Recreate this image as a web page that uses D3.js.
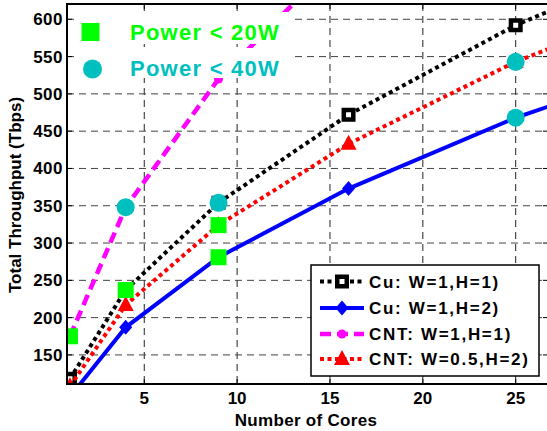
<!doctype html>
<meta charset="utf-8">
<style>
body { margin: 0; background: #fff; }
text { font-family: "Liberation Sans", Arial, Helvetica, sans-serif; font-weight: bold; }
</style>
<body>
<div id="viz"></div>
<script src="https://cdn.jsdelivr.net/npm/d3@7"></script>
<script>
// number of cores on the x axis
var cores = [1, 4, 9, 16, 25, 36];
// total throughput (Tbps) per configuration
var cuH1 = [118, 237, 354, 472, 592, 708];
var cuH2 = [94, 187, 281, 373, 468, 562];
var cntH1 = [175, 348, 520, 695, 870, 1040];
var cntH2 = [108, 217, 324, 433, 543, 650];
// points that satisfy the power budgets
var p20Cores = [1, 4, 9, 9];
var p20Values = [175, 237, 324, 281];
var p40Cores = [4, 9, 25, 25];
var p40Values = [348, 354, 543, 468];
// ticks
var xTicks = [5, 10, 15, 20, 25];
var yTicks = [150, 200, 250, 300, 350, 400, 450, 500, 550, 600];
var seriesNames = ["Cu: W=1,H=1)", "Cu: W=1,H=2)", "CNT: W=1,H=1)", "CNT: W=0.5,H=2)"];
var powerNames = ["Power < 20W", "Power < 40W"];

var width = 547, height = 431;
var pL = 67, pR = 548, pT = 4, pB = 384;

var x = d3.scaleLinear().domain([0.84, 26.74]).range([pL, pR]);
var y = d3.scaleLinear().domain([111, 620.5]).range([pB, pT]);

var svg = d3.select("#viz").append("svg").attr("width", width).attr("height", height);

svg.append("clipPath").attr("id", "plotclip").append("rect")
    .attr("x", pL).attr("y", pT).attr("width", pR - pL).attr("height", pB - pT);

// grid
var grid = svg.append("g");
grid.selectAll("line.vg").data(xTicks).enter().append("line")
    .attr("x1", function(d) { return x(d); }).attr("x2", function(d) { return x(d); })
    .attr("y1", pT).attr("y2", pB)
    .attr("stroke", "#222").attr("stroke-width", 1).attr("stroke-dasharray", "7,5");
grid.selectAll("line.hg").data(yTicks).enter().append("line")
    .attr("y1", function(d) { return y(d); }).attr("y2", function(d) { return y(d); })
    .attr("x1", pL).attr("x2", pR)
    .attr("stroke", "#444").attr("stroke-width", 1).attr("stroke-dasharray", "7,5");

// series styles
var styles = [
    {data: cuH1, color: "#000", dash: "4,3.5", width: 4, marker: "square"},
    {data: cuH2, color: "#0000ff", dash: null, width: 4, marker: "diamond"},
    {data: cntH1, color: "#ff00ff", dash: "11,6", width: 4.5, marker: "circle"},
    {data: cntH2, color: "#ff0000", dash: "4,3.5", width: 4, marker: "triangle"}
];

function markerPath(kind) {
    if (kind == "diamond") return "M0,-7.5L6.5,0L0,7.5L-6.5,0Z";
    if (kind == "triangle") return "M0,-9L8,6L-8,6Z";
    return null;
}

function drawMarker(g, kind, color, cx, cy) {
    if (kind == "square") {
        g.append("rect").attr("x", cx - 4.75).attr("y", cy - 4.75).attr("width", 9.5).attr("height", 9.5)
            .attr("fill", "#fff").attr("stroke", color).attr("stroke-width", 4.5);
    } else if (kind == "circle") {
        g.append("circle").attr("cx", cx).attr("cy", cy).attr("r", 4.5).attr("fill", color);
    } else {
        g.append("path").attr("d", markerPath(kind)).attr("transform", "translate(" + cx + "," + cy + ")")
            .attr("fill", color);
    }
}

var plot = svg.append("g").attr("clip-path", "url(#plotclip)");
var line = d3.line().x(function(d) { return x(d[0]); }).y(function(d) { return y(d[1]); });

styles.forEach(function(s) {
    var pts = d3.zip(cores, s.data);
    plot.append("path").attr("d", line(pts)).attr("fill", "none")
        .attr("stroke", s.color).attr("stroke-width", s.width)
        .attr("stroke-dasharray", s.dash);
    pts.forEach(function(p) { drawMarker(plot, s.marker, s.color, x(p[0]), y(p[1])); });
});

// power budget markers
d3.zip(p20Cores, p20Values).forEach(function(p) {
    plot.append("rect").attr("x", x(p[0]) - 8).attr("y", y(p[1]) - 8).attr("width", 16).attr("height", 16)
        .attr("fill", "#00ff00");
});
d3.zip(p40Cores, p40Values).forEach(function(p) {
    plot.append("circle").attr("cx", x(p[0])).attr("cy", y(p[1])).attr("r", 9).attr("fill", "#00bfbf");
});

// axes box with inward ticks
var ax = svg.append("g").attr("stroke", "#000");
ax.append("rect").attr("x", pL).attr("y", pT).attr("width", pR - pL).attr("height", pB - pT)
    .attr("fill", "none").attr("stroke-width", 2);
xTicks.forEach(function(t) {
    ax.append("line").attr("x1", x(t)).attr("x2", x(t)).attr("y1", pB).attr("y2", pB - 5);
    ax.append("line").attr("x1", x(t)).attr("x2", x(t)).attr("y1", pT).attr("y2", pT + 5);
});
yTicks.forEach(function(t) {
    ax.append("line").attr("y1", y(t)).attr("y2", y(t)).attr("x1", pL).attr("x2", pL + 5);
    ax.append("line").attr("y1", y(t)).attr("y2", y(t)).attr("x1", pR).attr("x2", pR - 5);
});

svg.selectAll("text.xt").data(xTicks).enter().append("text")
    .attr("x", function(d) { return x(d); }).attr("y", 404)
    .attr("text-anchor", "middle").attr("font-size", 17).text(function(d) { return d; });
svg.selectAll("text.yt").data(yTicks).enter().append("text")
    .attr("x", 63).attr("y", function(d) { return y(d) + 6; })
    .attr("text-anchor", "end").attr("font-size", 17).attr("letter-spacing", 0.5)
    .text(function(d) { return d; });

svg.append("text").attr("x", 306).attr("y", 426).attr("text-anchor", "middle")
    .attr("font-size", 17).attr("letter-spacing", 0.3).text("Number of Cores");
svg.append("text").attr("transform", "translate(21,195) rotate(-90)").attr("text-anchor", "middle")
    .attr("font-size", 17).text("Total Throughput (Tbps)");

// power annotations (white background boxes, no border)
var pw = svg.append("g");
pw.append("rect").attr("x", 78).attr("y", 12).attr("width", 212).attr("height", 32).attr("fill", "#fff");
pw.append("rect").attr("x", 78).attr("y", 48).attr("width", 212).attr("height", 30).attr("fill", "#fff");
pw.append("rect").attr("x", 81.5).attr("y", 23).attr("width", 18).attr("height", 18).attr("fill", "#00ff00");
pw.append("text").attr("x", 130).attr("y", 39.5).attr("font-size", 22).attr("letter-spacing", 1.25)
    .attr("fill", "#00ff00").text(powerNames[0]);
pw.append("circle").attr("cx", 92.5).attr("cy", 69).attr("r", 9.5).attr("fill", "#00bfbf");
pw.append("text").attr("x", 130).attr("y", 76).attr("font-size", 22).attr("letter-spacing", 1.25)
    .attr("fill", "#00bfbf").text(powerNames[1]);

// legend
var lg = svg.append("g");
lg.append("rect").attr("x", 311).attr("y", 265).attr("width", 228).attr("height", 111)
    .attr("fill", "#fff").attr("stroke", "#000").attr("stroke-width", 1.5);
var rowY = [281.5, 308, 334, 359];
styles.forEach(function(s, i) {
    lg.append("line").attr("x1", 320).attr("x2", 364).attr("y1", rowY[i]).attr("y2", rowY[i])
        .attr("stroke", s.color).attr("stroke-width", s.width).attr("stroke-dasharray", s.dash);
    drawMarker(lg, s.marker, s.color, 342, rowY[i]);
    lg.append("text").attr("x", 369).attr("y", rowY[i] + 6).attr("font-size", 17)
        .attr("letter-spacing", 1.7).text(seriesNames[i]);
});
</script>
</body>
</html>
